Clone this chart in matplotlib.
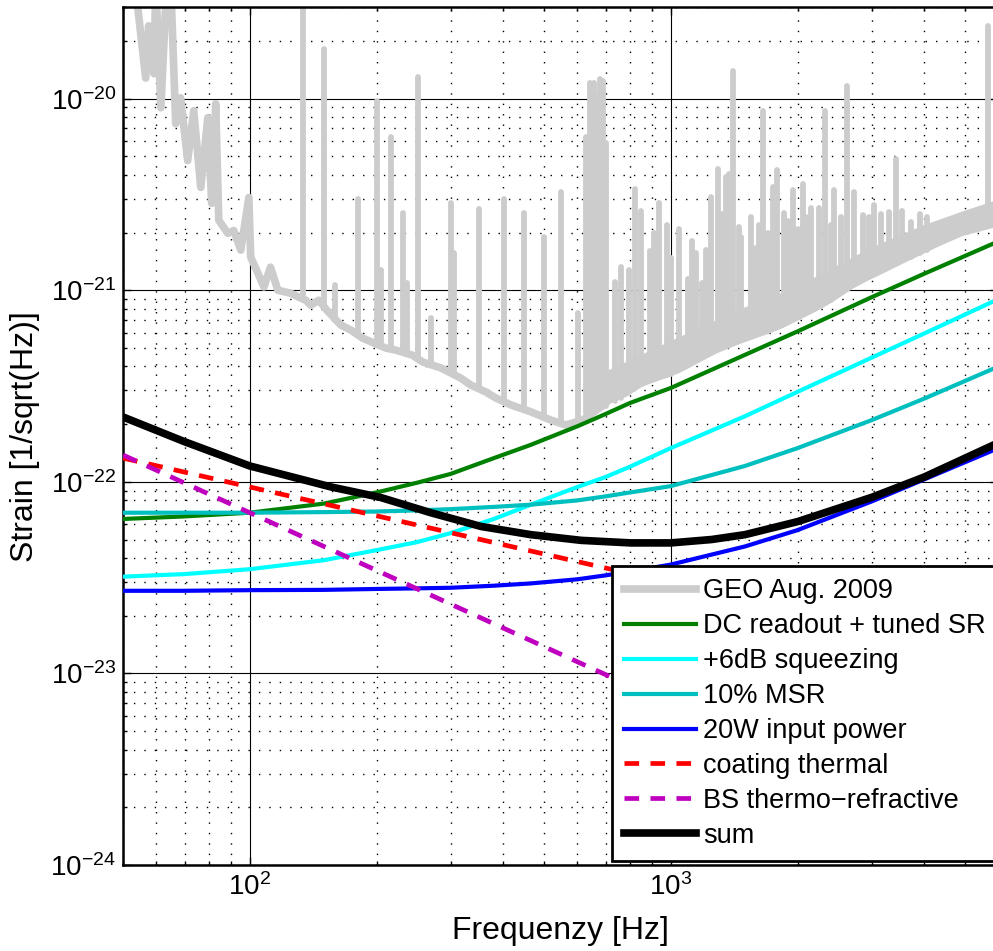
import matplotlib
matplotlib.use("Agg")
import matplotlib.pyplot as plt

plt.rcParams["font.family"] = ["Liberation Sans", "DejaVu Sans"]
plt.rcParams["mathtext.fontset"] = "custom"
plt.rcParams["mathtext.rm"] = "Liberation Sans"
plt.rcParams["mathtext.it"] = "Liberation Sans:italic"
plt.rcParams["mathtext.bf"] = "Liberation Sans:bold"

# ---------------------------------------------------------------------------
# noise budget curves, strain in 1/sqrt(Hz)
# ---------------------------------------------------------------------------
model_f = [50, 70, 100, 150, 200, 250, 300, 380, 465, 600, 700, 800, 1000, 1500, 2000,
           3000, 4000, 6000]
dc_readout = [6.4e-23, 6.6e-23, 6.9e-23, 7.7e-23, 8.8e-23, 9.9e-23, 1.1e-22, 1.33e-22,
              1.56e-22, 1.95e-22, 2.26e-22, 2.58e-22, 3.09e-22, 4.6e-22, 6.1e-22, 9.2e-22,
              1.22e-21, 1.8e-21]
squeezing = [3.2e-23, 3.3e-23, 3.5e-23, 3.9e-23, 4.4e-23, 4.85e-23, 5.4e-23, 6.4e-23,
             7.6e-23, 9.4e-23, 1.06e-22, 1.2e-22, 1.5e-22, 2.2e-22, 2.95e-22, 4.45e-22,
             5.95e-22, 9.0e-22]
msr10 = [6.9e-23, 6.9e-23, 6.9e-23, 6.95e-23, 7.0e-23, 7.1e-23, 7.2e-23, 7.4e-23, 7.6e-23,
         8.0e-23, 8.4e-23, 8.8e-23, 9.5e-23, 1.21e-22, 1.5e-22, 2.1e-22, 2.72e-22, 4.0e-22]
power20w = [2.7e-23, 2.7e-23, 2.72e-23, 2.73e-23, 2.76e-23, 2.78e-23, 2.8e-23, 2.87e-23,
            2.95e-23, 3.1e-23, 3.25e-23, 3.4e-23, 3.7e-23, 4.6e-23, 5.6e-23, 7.9e-23,
            1.03e-22, 1.5e-22]

thermal_f = [50, 100, 200, 500, 1000, 2000, 6000]
coating = [1.33e-22, 9.4e-23, 6.65e-23, 4.2e-23, 2.97e-23, 2.1e-23, 1.21e-23]
bs_thermo = [1.38e-22, 6.9e-23, 3.45e-23, 1.38e-23, 6.9e-24, 3.45e-24, 1.15e-24]

sum_f = [50, 70, 100, 156, 204, 269, 354, 465, 612, 804, 1000, 1250, 1500, 2000, 3000,
         4000, 6000]
sum_h = [2.18e-22, 1.62e-22, 1.21e-22, 9.4e-23, 8.3e-23, 6.9e-23, 5.85e-23, 5.3e-23,
         4.95e-23, 4.8e-23, 4.8e-23, 5.0e-23, 5.3e-23, 6.2e-23, 8.3e-23, 1.06e-22, 1.6e-22]

# GEO Aug. 2009 measured spectrum: floor, dense-noise band and lines
geo_f = [50, 54.2, 56.6, 57.5, 59.2, 59.8, 61.5, 63.5, 64.9, 66.7, 68.5, 71.2, 73.6,
         76.5, 79.5, 81.2, 83.0, 84.4, 88.7, 91.6, 95.2, 99.5, 100.5, 104.5, 108, 112,
         116.6, 125, 130.7, 135.8, 139.6, 145.9, 152.4, 164.5, 173.7, 185.4, 210.4,
         222.2, 243.6, 257.5, 284.5, 317, 335, 364, 384, 417, 465, 519, 563, 618, 713,
         778, 835, 873, 957, 1023, 1074, 1165, 1265, 1426, 1508, 1700, 1825, 2003, 2200,
         2374, 2677, 2938, 3154, 3515, 3818, 4258, 4886, 5754, 6000]
geo_h = [2e-19, 2.98e-20, 1.28e-20, 2.4e-20, 1.35e-20, 4e-20, 8.97e-21, 4e-20, 4e-20,
         7.4e-21, 1.01e-20, 4.75e-21, 8.65e-21, 3.44e-21, 7.96e-21, 2.84e-21, 9.4e-21,
         2.32e-21, 1.98e-21, 2.05e-21, 1.62e-21, 3.05e-21, 1.49e-21, 1.23e-21, 1.04e-21,
         1.32e-21, 1.0e-21, 9.65e-22, 9.2e-22, 8.87e-22, 8.35e-22, 8.87e-22, 7.87e-22,
         6.58e-22, 6.2e-22, 5.62e-22, 4.99e-22, 4.87e-22, 4.58e-22, 4.22e-22, 3.93e-22,
         3.48e-22, 3.2e-22, 2.94e-22, 2.74e-22, 2.52e-22, 2.32e-22, 2.1e-22, 1.98e-22,
         2.1e-22, 2.67e-22, 2.9e-22, 3.2e-22, 3.4e-22, 3.6e-22, 3.8e-22, 4.0e-22, 4.4e-22,
         4.85e-22, 5.4e-22, 5.65e-22, 6.2e-22, 6.6e-22, 7.3e-22, 8.1e-22, 8.9e-22,
         1.06e-21, 1.18e-21, 1.27e-21, 1.43e-21, 1.56e-21, 1.75e-21, 2.0e-21, 2.2e-21,
         2.25e-21]

band_f = [700, 1000, 1500, 2000, 3000, 4000, 5000, 6000]
band_lo = [2.67e-22, 3.6e-22, 5.6e-22, 7.3e-22, 1.2e-21, 1.64e-21, 2.03e-21, 2.25e-21]
band_hi = [3.6e-22, 5.2e-22, 7.8e-22, 1.0e-21, 1.6e-21, 2.1e-21, 2.5e-21, 2.85e-21]

line_f = [133.6, 149.9, 159.3, 180.6, 200.3, 204.6, 216.2, 230.7, 236.5, 250.5, 269,
          300, 305, 350, 401, 448, 499, 548, 602, 628, 642, 656, 667, 678, 689, 701,
          735, 761, 794, 821, 849, 890, 910, 936, 980, 1000, 1045, 1097, 1120, 1146, 1185,
          1211, 1244, 1294, 1320, 1352, 1374, 1404, 1451, 1470, 1549, 1592, 1620, 1655,
          1700, 1746, 1786, 1854, 1900, 1948, 2000, 2059, 2100, 2152, 2248, 2323, 2400,
          2438, 2534, 2618, 2722, 2858, 2950, 3036, 3150, 3296, 3423, 3550, 3715, 3900,
          4056, 5662]
line_base = [8.9e-22, 8.5e-22, 7e-22, 5.9e-22, 5.3e-22, 5.2e-22, 4.95e-22, 4.7e-22,
             4.65e-22, 4.4e-22, 4.1e-22, 3.7e-22, 3.6e-22, 3.05e-22, 2.62e-22, 2.4e-22,
             2.2e-22, 2.0e-22, 2.05e-22, 2.3e-22, 2.3e-22, 2.3e-22, 2.35e-22, 2.4e-22,
             2.45e-22, 2.5e-22, 2.65e-22, 2.75e-22, 2.95e-22, 3.1e-22, 3.3e-22, 3.4e-22,
             3.45e-22, 3.55e-22, 3.6e-22, 3.65e-22, 3.85e-22, 4.1e-22, 4.2e-22, 4.3e-22,
             4.5e-22, 4.6e-22, 4.7e-22, 5.0e-22, 5.1e-22, 5.2e-22, 5.25e-22, 5.35e-22,
             5.5e-22, 5.55e-22, 5.8e-22, 5.95e-22, 6.0e-22, 6.1e-22, 6.2e-22, 6.35e-22,
             6.5e-22, 6.7e-22, 6.9e-22, 7.1e-22, 7.3e-22, 7.5e-22, 7.7e-22, 7.9e-22, 8.3e-22,
             8.6e-22, 8.9e-22, 9.2e-22, 9.8e-22, 1.03e-21, 1.08e-21, 1.14e-21, 1.18e-21,
             1.22e-21, 1.27e-21, 1.33e-21, 1.4e-21, 1.45e-21, 1.5e-21, 1.57e-21, 1.62e-21,
             2.2e-21]
line_top = [4e-20, 1.82e-20, 1.06e-21, 3.01e-21, 9.77e-21, 1.27e-21, 6.27e-21, 2.52e-21,
            1.09e-21, 1.3e-20, 7.14e-22, 2.87e-21, 1.56e-21, 2.67e-21, 2.98e-21, 2.52e-21,
            1.89e-21, 3.24e-21, 7.58e-22, 6.34e-21, 1.21e-20, 1.21e-20, 1.04e-20, 1.27e-20,
            1.23e-20, 5.9e-21, 1.1e-21, 1.32e-21, 1.27e-21, 3.36e-21, 2.58e-21, 1.6e-21,
            2.0e-21, 2.84e-21, 2.2e-21, 1.47e-21, 2.1e-21, 1.15e-21, 1.8e-21, 1.56e-21,
            1.09e-21, 1.62e-21, 3.05e-21, 4.31e-21, 2.5e-21, 3.88e-21, 4.05e-21, 1.4e-20,
            2.13e-21, 1.9e-21, 2.4e-21, 1.66e-21, 2.2e-21, 8.65e-21, 2.0e-21, 3.44e-21,
            4.22e-21, 2.52e-21, 2.3e-21, 3.32e-21, 2.1e-21, 3.6e-21, 2.4e-21, 2.7e-21,
            2.7e-21, 8.65e-21, 2.2e-21, 3.32e-21, 2.4e-21, 1.17e-20, 3.24e-21, 2.46e-21,
            2.4e-21, 2.77e-21, 2.5e-21, 2.55e-21, 4.87e-21, 2.6e-21, 2.26e-21, 2.5e-21,
            2.4e-21, 2.4e-20]

GREY = "#cccccc"

fig = plt.figure(figsize=(9.93, 9.51), dpi=100)
ax = fig.add_axes([0.1239, 0.0904, 0.8816, 0.902])

# measured spectrum first, so it sits underneath the model curves
ax.fill_between(band_f, band_lo, band_hi, color=GREY, lw=0, zorder=1)
ax.plot(band_f, band_hi, color=GREY, lw=4.7, zorder=1, solid_capstyle="round")
ax.vlines(line_f, line_base, line_top, color=GREY, lw=4.2, zorder=1, capstyle="round")
ax.plot(geo_f, geo_h, color=GREY, lw=5.5, zorder=1.1, label="GEO Aug. 2009",
        solid_joinstyle="round")

ax.plot(model_f, dc_readout, color="#008000", lw=3, zorder=3, label="DC readout + tuned SR")
ax.plot(model_f, squeezing, color="#00ffff", lw=3, zorder=3, label="+6dB squeezing")
ax.plot(model_f, msr10, color="#00bfbf", lw=3, zorder=3, label="10% MSR")
ax.plot(model_f, power20w, color="#0000ff", lw=3, zorder=3, label="20W input power")
ax.plot(thermal_f, coating, color="#ff0000", lw=3.4, ls=(0, (3.1, 2.4)), zorder=3,
        label="coating thermal")
ax.plot(thermal_f, bs_thermo, color="#bf00bf", lw=3.4, ls=(0, (3.1, 2.4)), zorder=3,
        label="BS thermo\u2212refractive")
ax.plot(sum_f, sum_h, color="black", lw=5.5, zorder=4, label="sum")

ax.set_xscale("log")
ax.set_yscale("log")
ax.set_xlim(50, 6000)
ax.set_ylim(1e-24, 3e-20)

ax.set_axisbelow(True)
ax.grid(True, which="major", color="black", lw=0.8, ls="-")
ax.grid(True, which="minor", color="black", lw=1.0, ls=(0, (1, 6.5)))
ax.tick_params(which="both", direction="in", top=True, right=True, width=1)
ax.tick_params(which="major", length=6, labelsize=20)
ax.tick_params(axis="y", which="major", pad=5)
ax.tick_params(axis="x", which="major", pad=6)
ax.tick_params(which="minor", length=3.2)
for sp in ax.spines.values():
    sp.set_linewidth(1.8)

ax.set_xlabel("Frequenzy [Hz]", fontsize=23)
ax.set_ylabel("Strain [1/sqrt(Hz)]", fontsize=23)
ax.xaxis.set_label_coords(0.5, -0.06)
ax.yaxis.set_label_coords(-0.095, 0.5)

leg = ax.legend(loc="lower left", bbox_to_anchor=(0.5586, 0.0047), borderaxespad=0,
                fontsize=19.5, fancybox=False, framealpha=1, edgecolor="black",
                labelspacing=0.33, borderpad=0.45, handlelength=2.65, handletextpad=0.25)
leg.get_frame().set_linewidth(2)
leg.set_zorder(10)

fig.savefig("out.png", dpi=100)
